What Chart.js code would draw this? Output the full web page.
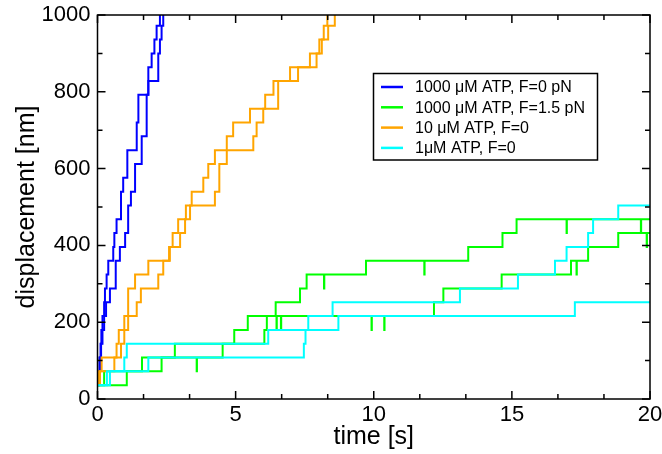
<!DOCTYPE html>
<html><head><meta charset="utf-8">
<script src="https://cdn.jsdelivr.net/npm/chart.js@4.4.1/dist/chart.umd.min.js"></script>
<style>html,body{margin:0;padding:0;background:#fff;}#wrap{width:662px;height:454px;}</style>
</head><body><div id="wrap"><canvas id="c" width="662" height="454"></canvas></div>
<script>
// ---------- data (time in s, displacement in nm; steps of 36 nm) ----------
const legendLabels = ['1000 \u03BCM ATP, F=0 pN', '1000 \u03BCM ATP, F=1.5 pN', '10 \u03BCM ATP, F=0', '1\u03BCM ATP, F=0'];
const seriesColors = ['#0000ff', '#00ff00', '#ffa500', '#00ffff'];
const xTickValues = [0, 5, 10, 15, 20];
const yTickValues = [0, 200, 400, 600, 800, 1000];

// 1000 uM ATP, F=0 pN (two runs)
const blue1Time = [0,0.04,0.07,0.11,0.14,0.18,0.24,0.27,0.33,0.39,0.57,0.61,0.69,0.85,0.93,1.08,1.42,1.48,1.84,1.96,2.06,2.14,2.26];
const blue1Disp = [36,72,108,144,180,216,252,288,324,360,396,432,468,540,576,648,720,792,864,900,936,972,1008];
const blue2Time = [0,0.05,0.09,0.13,0.18,0.24,0.31,0.45,0.66,0.81,1.0,1.11,1.21,1.36,1.60,1.78,1.84,2.20,2.26,2.32,2.38];
const blue2Disp = [36,72,108,144,180,216,252,288,360,396,432,504,540,612,684,792,828,900,936,972,1008];

// 1000 uM ATP, F=1.5 pN (two runs, with brief back-steps)
const green1Time = [0,0.24,1.61,2.80,4.95,5.44,6.45,7.33,7.57,8.20,8.21,9.72,11.83,11.84,13.42,14.66,15.17,16.98,16.99,19.67,19.68,20];
const green1Disp = [36,72,108,144,180,216,252,288,324,288,324,360,324,360,396,432,468,432,468,432,468,468];
const green2Time = [0,1.06,2.32,3.59,3.60,4.53,6.04,6.13,6.48,6.49,6.64,6.65,9.92,9.93,10.38,10.39,12.18,12.52,14.63,17.14,17.34,17.35,17.76,18.85,19.88,19.89,20];
const green2Disp = [36,72,108,72,108,144,180,216,180,216,180,216,180,216,180,216,252,288,324,360,324,360,396,432,396,432,432];

// 10 uM ATP, F=0 (two runs)
const orange1Time = [0,0.05,0.61,0.85,0.97,1.11,1.42,1.57,2.20,2.38,2.59,2.72,2.92,3.20,3.41,3.83,4.01,4.25,5.64,5.76,6.00,6.54,7.26,7.69,8.12,8.19,8.32];
const orange1Disp = [36,72,108,144,180,216,252,288,324,360,396,432,468,504,540,576,612,648,684,720,756,828,864,900,936,972,1008];
const orange2Time = [0,0.09,0.15,0.69,0.77,0.97,1.11,1.36,1.84,2.62,2.99,3.17,3.35,4.25,4.41,4.68,4.91,5.52,6.07,6.37,6.97,7.93,8.03,8.35,8.59];
const orange2Disp = [36,72,108,144,180,216,288,324,360,396,432,468,504,540,612,684,720,756,792,828,864,900,936,972,1008];

// 1 uM ATP, F=0 (two runs)
const cyan1Time = [0,0.34,0.97,1.06,6.18,7.63,8.51,13.12,15.22,16.56,16.98,17.76,17.94,18.85,20];
const cyan1Disp = [36,72,108,144,180,216,252,288,324,360,396,432,468,504,504];
const cyan2Time = [0,0.45,1.84,7.47,7.53,8.72,17.28,20];
const cyan2Disp = [36,72,108,144,180,216,252,252];

// ---------- chart ----------
const FONT = "'Liberation Sans', Arial, Helvetica, sans-serif";
function pts(t, d) { return t.map((v, i) => ({x: v, y: d[i]})); }
function ds(t, d, color) {
  return { data: pts(t, d), borderColor: color, backgroundColor: color, borderWidth: 2,
    stepped: true, pointRadius: 0, fill: false, tension: 0, clip: 0 };
}
// first dataset is drawn on top
const datasets = [
  ds(cyan1Time, cyan1Disp, seriesColors[3]), ds(cyan2Time, cyan2Disp, seriesColors[3]),
  ds(orange1Time, orange1Disp, seriesColors[2]), ds(orange2Time, orange2Disp, seriesColors[2]),
  ds(green1Time, green1Disp, seriesColors[1]), ds(green2Time, green2Disp, seriesColors[1]),
  ds(blue1Time, blue1Disp, seriesColors[0]), ds(blue2Time, blue2Disp, seriesColors[0])
];

const framePlugin = {
  id: 'frame',
  afterDatasetsDraw(chart) {
    const {ctx, chartArea: a, scales: {x, y}} = chart;
    ctx.save();
    ctx.strokeStyle = '#000';
    ctx.lineWidth = 1.5;
    ctx.beginPath();
    const xMinor = [], yMinor = [];
    for (let i = 0; i < xTickValues.length - 1; i++) {
      const s = (xTickValues[i + 1] - xTickValues[i]) / 3;
      xMinor.push(xTickValues[i] + s, xTickValues[i] + 2 * s);
    }
    for (let i = 0; i < yTickValues.length - 1; i++) yMinor.push((yTickValues[i] + yTickValues[i + 1]) / 2);
    const xt = (v, len) => { const p = x.getPixelForValue(v); ctx.moveTo(p, a.bottom); ctx.lineTo(p, a.bottom - len); ctx.moveTo(p, a.top); ctx.lineTo(p, a.top + len); };
    const yt = (v, len) => { const p = y.getPixelForValue(v); ctx.moveTo(a.left, p); ctx.lineTo(a.left + len, p); ctx.moveTo(a.right, p); ctx.lineTo(a.right - len, p); };
    xTickValues.forEach(v => xt(v, 8)); xMinor.forEach(v => xt(v, 5));
    yTickValues.forEach(v => yt(v, 8)); yMinor.forEach(v => yt(v, 5));
    ctx.stroke();
    ctx.strokeRect(a.left, a.top, a.right - a.left, a.bottom - a.top);

    // legend
    const lx = 373.5, ly = 73.5, lw = 224, lh = 86.5;
    ctx.fillStyle = '#fff';
    ctx.fillRect(lx, ly, lw, lh);
    ctx.strokeRect(lx, ly, lw, lh);
    ctx.font = '16px ' + FONT;
    ctx.textBaseline = 'middle';
    ctx.textAlign = 'left';
    legendLabels.forEach((lab, i) => {
      const cy = ly + 13.5 + i * 20.3;
      ctx.strokeStyle = seriesColors[i];
      ctx.lineWidth = 2.5;
      ctx.beginPath(); ctx.moveTo(381, cy); ctx.lineTo(403, cy); ctx.stroke();
      ctx.fillStyle = '#000';
      ctx.fillText(lab, 415, cy + 1);
    });
    ctx.restore();
  }
};

new Chart(document.getElementById('c'), {
  type: 'line',
  data: { datasets },
  plugins: [framePlugin],
  options: {
    responsive: false,
    animation: false,
    devicePixelRatio: 1,
    layout: { padding: { left: 0, right: 12, top: 15, bottom: 0 } },
    plugins: { legend: { display: false }, tooltip: { enabled: false } },
    scales: {
      x: {
        type: 'linear', min: 0, max: 20,
        afterFit: s => { s.height = 55; s.paddingLeft = 0; s.paddingRight = 0; },
        afterBuildTicks: s => { s.ticks = xTickValues.map(v => ({value: v})); },
        grid: { display: false, drawTicks: false },
        border: { display: false },
        ticks: { padding: 3, color: '#000', font: { family: FONT, size: 22 }, maxRotation: 0, autoSkip: false, callback: v => String(v) },
        title: { display: true, text: 'time [s]', color: '#000', font: { family: FONT, size: 25 }, padding: { top: 0, bottom: 2 } }
      },
      y: {
        type: 'linear', min: 0, max: 1000,
        afterFit: s => { s.width = 97.5; s.paddingTop = 0; s.paddingBottom = 0; },
        afterBuildTicks: s => { s.ticks = yTickValues.map(v => ({value: v})); },
        grid: { display: false, drawTicks: false },
        border: { display: false },
        ticks: { padding: 7, color: '#000', font: { family: FONT, size: 22 }, autoSkip: false, callback: v => String(v) },
        title: { display: true, text: 'displacement [nm]', color: '#000', font: { family: FONT, size: 25 }, padding: { top: 12, bottom: 0 } }
      }
    }
  }
});
</script>
</body></html>
